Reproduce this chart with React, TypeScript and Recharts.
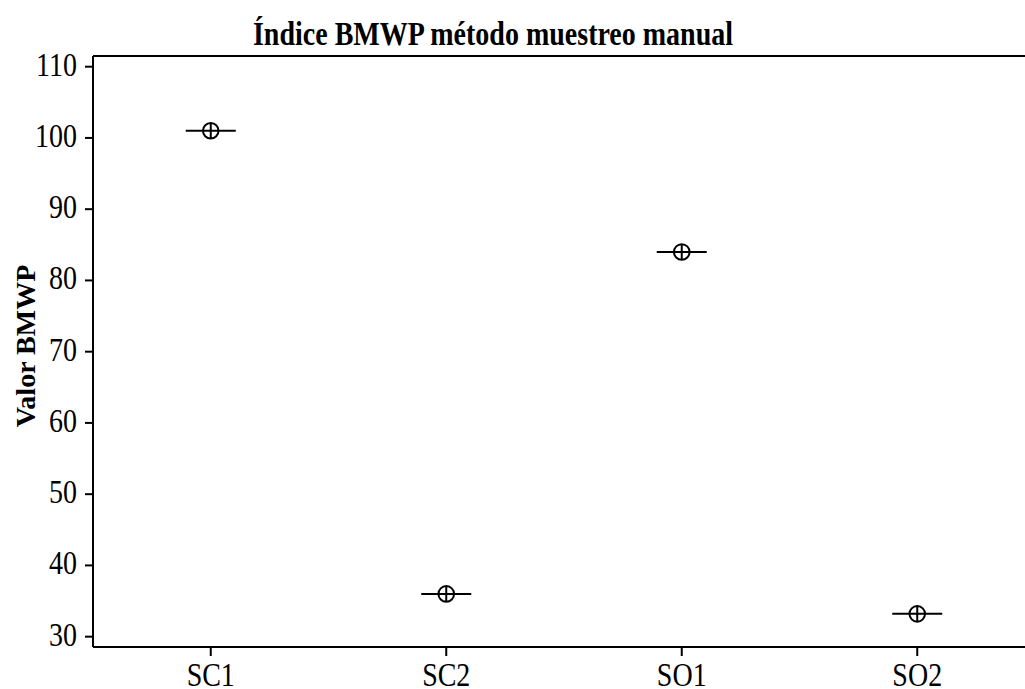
import React from "react";
import {
  ScatterChart,
  Scatter,
  XAxis,
  YAxis,
  ReferenceLine,
} from "recharts";

const sites = ["SC1", "SC2", "SO1", "SO2"];
const bmwpValues = [101, 36, 84, 33.2];
const yTicks = [30, 40, 50, 60, 70, 80, 90, 100, 110];

const data = sites.map((site, i) => ({ site, value: bmwpValues[i] }));

const FONT = '"Liberation Serif", "Times New Roman", serif';
const STRETCH = 1.17;

function MeanMarker(props: any) {
  const { cx, cy } = props;
  if (cx == null || cy == null) return null;
  return (
    <g stroke="#000" strokeWidth={2} fill="none">
      <line x1={cx - 25} y1={cy} x2={cx + 25} y2={cy} />
      <circle cx={cx} cy={cy} r={7.8} />
      <line x1={cx} y1={cy - 7.8} x2={cx} y2={cy + 7.8} />
    </g>
  );
}

// tall, slightly narrow glyphs like the original export
function StretchText({ x, y, anchor, bold, children }: any) {
  return (
    <text
      transform={`translate(${x},${y}) scale(1,${STRETCH})`}
      textAnchor={anchor}
      fontFamily={FONT}
      fontWeight={bold ? "bold" : "normal"}
      fontSize={28}
      fill="#000"
    >
      {children}
    </text>
  );
}

function YTick(props: any) {
  const { x, y, payload } = props;
  return (
    <StretchText x={x} y={y + 9} anchor="end">
      {payload.value}
    </StretchText>
  );
}

function XTick(props: any) {
  const { x, payload } = props;
  return (
    <StretchText x={x} y={686} anchor="middle">
      {payload.value}
    </StretchText>
  );
}

export default function App() {
  return (
    <div
      style={{
        position: "absolute",
        left: 0,
        top: 0,
        width: 1025,
        height: 689,
        overflow: "hidden",
        background: "#fff",
      }}
    >
      <ScatterChart
        width={1040}
        height={689}
        data={data}
        margin={{ top: 56, right: 5, bottom: 0, left: 0 }}
      >
        <XAxis
          dataKey="site"
          type="category"
          allowDuplicatedCategory={false}
          height={42}
          axisLine={{ stroke: "#000", strokeWidth: 2 }}
          tickLine={{ stroke: "#000", strokeWidth: 2 }}
          tickSize={9}
          tickMargin={9}
          tick={<XTick />}
        />
        <YAxis
          dataKey="value"
          type="number"
          domain={[28.55, 111.5]}
          ticks={yTicks}
          allowDataOverflow
          width={93}
          axisLine={{ stroke: "#000", strokeWidth: 2 }}
          tickLine={{ stroke: "#000", strokeWidth: 2 }}
          tickSize={8}
          tickMargin={8}
          tick={<YTick />}
          label={{
            content: () => (
              <text
                x={35}
                y={346}
                transform="rotate(-90 35 346)"
                textAnchor="middle"
                fontFamily={FONT}
                fontWeight="bold"
                fontSize={28}
                fill="#000"
              >
                Valor BMWP
              </text>
            ),
          }}
        />
        <ReferenceLine
          y={111.5}
          stroke="#000"
          strokeWidth={2}
          label={{
            content: () => (
              <StretchText x={493} y={45} anchor="middle" bold>
                Índice BMWP método muestreo manual
              </StretchText>
            ),
          }}
        />
        <Scatter
          dataKey="value"
          isAnimationActive={false}
          shape={(p: any) => <MeanMarker {...p} />}
        />
      </ScatterChart>
    </div>
  );
}
